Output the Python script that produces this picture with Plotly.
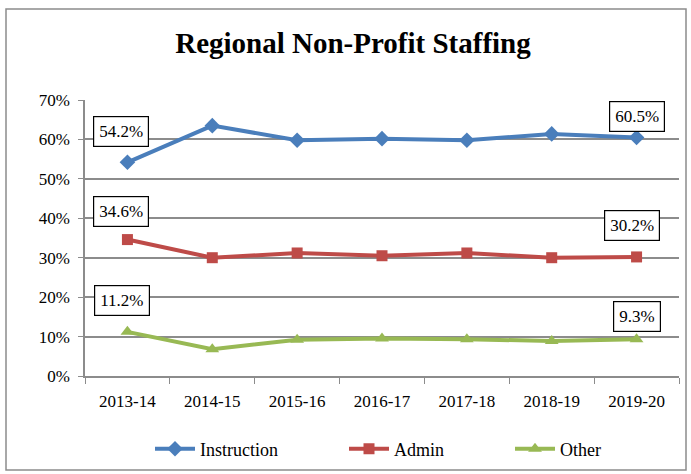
import plotly.graph_objects as go

# Staffing share by fiscal year
years = ["2013-14", "2014-15", "2015-16", "2016-17", "2017-18", "2018-19", "2019-20"]
instruction = [54.2, 63.5, 59.8, 60.2, 59.8, 61.4, 60.5]
admin = [34.6, 30.0, 31.2, 30.5, 31.2, 30.0, 30.2]
other = [11.2, 6.8, 9.2, 9.5, 9.3, 8.9, 9.3]

FONT = "Liberation Serif, Times New Roman, Times, serif"
W, H = 691, 474
ml, mr, mt, mb = 85, 12, 100, 98
pw, ph = W - ml - mr, H - mt - mb

# name, values, colour, marker, marker size, legend id, legend left edge (px)
series = [
    ("Instruction", instruction, "#4A7EBB", "diamond", 12, "legend", 150),
    ("Admin", admin, "#BE4B48", "square", 11, "legend2", 344),
    ("Other", other, "#98B954", "triangle-up", 12, "legend3", 510),
]

fig = go.Figure()
legends = {}
for name, vals, color, symbol, size, lg, lx in series:
    fig.add_trace(go.Scatter(
        x=years, y=vals, name=name, mode="lines+markers", legend=lg,
        line=dict(color=color, width=4),
        marker=dict(symbol=symbol, size=size, color=color),
    ))
    legends[lg] = dict(
        x=lx / W, xref="container", xanchor="left",
        y=1 - 449 / H, yref="container", yanchor="middle",
        orientation="h", font=dict(family=FONT, size=18, color="black"),
        bgcolor="rgba(0,0,0,0)", itemwidth=40,
    )

# value callouts on first and last points (index, series values, x shift, y shift)
callouts = [
    (0, instruction, -6, 31), (6, instruction, 0, 21),
    (0, admin, -6, 28), (6, admin, -5, 31),
    (0, other, -5, 31), (6, other, 0, 23),
]
for i, vals, dx, dy in callouts:
    fig.add_annotation(
        x=years[i], y=vals[i], text=f"{vals[i]:.1f}%", showarrow=False,
        xshift=dx, yshift=dy, bgcolor="white", bordercolor="black",
        borderwidth=1.2, borderpad=5, font=dict(family=FONT, size=17, color="black"),
    )

# outer chart frame
fig.add_shape(
    type="rect", xref="paper", yref="paper", layer="below",
    x0=(6 - ml) / pw, x1=(686 - ml) / pw,
    y0=(H - mb - 470) / ph, y1=(H - mb - 9) / ph,
    line=dict(color="#8c8c8c", width=1.5), fillcolor="rgba(0,0,0,0)",
)

fig.update_layout(
    width=W, height=H,
    margin=dict(l=ml, r=mr, t=mt, b=mb, autoexpand=False),
    paper_bgcolor="white", plot_bgcolor="white",
    title=dict(text="<b>Regional Non-Profit Staffing</b>", x=353 / W, xref="container",
               xanchor="center", y=1 - 43 / H, yanchor="middle",
               font=dict(family=FONT, size=29, color="black")),
    font=dict(family=FONT, size=16, color="black"),
    showlegend=True,
    xaxis=dict(
        type="category", range=[-0.5, 6.5], tickson="boundaries",
        ticks="outside", ticklen=6, tickcolor="#8c8c8c",
        showline=True, linecolor="#8c8c8c", linewidth=1.5, showgrid=False,
        tickfont=dict(family=FONT, size=17), fixedrange=True,
        ticklabelstandoff=9,
    ),
    yaxis=dict(
        range=[0, 70], dtick=10, ticksuffix="%",
        showgrid=True, gridcolor="#8c8c8c", gridwidth=1.5,
        showline=True, linecolor="#8c8c8c", linewidth=1.5,
        ticks="outside", ticklen=5, tickcolor="#8c8c8c",
        zeroline=False, tickfont=dict(family=FONT, size=17),
        ticklabelstandoff=5,
    ),
    **legends,
)

fig.write_html("out.html")
